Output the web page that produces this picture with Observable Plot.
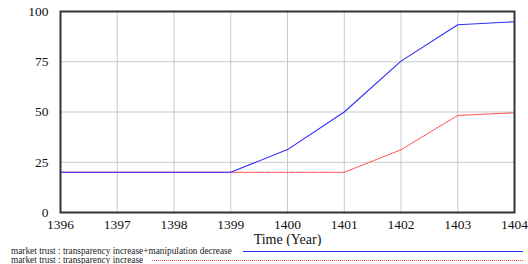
<!DOCTYPE html>
<html>
<head>
<meta charset="utf-8">
<script src="https://cdn.jsdelivr.net/npm/d3@7"></script>
<script src="https://cdn.jsdelivr.net/npm/@observablehq/plot@0.6"></script>
<style>
  html, body { margin: 0; padding: 0; background: #fff; }
  #wrap { position: relative; width: 528px; height: 264px; overflow: hidden; font-family: 'Liberation Serif', 'Times New Roman', 'DejaVu Serif', serif; }
  #chart { position: absolute; left: 0; top: 0; }
  #chart svg, #chart svg text { font-family: 'Liberation Serif', 'Times New Roman', 'DejaVu Serif', serif !important; }
  .leg { position: absolute; left: 0; width: 528px; height: 9px; font-size: 9.3px; color: #222; }
  .leg span { position: absolute; left: 11px; top: 0; line-height: 9px; white-space: nowrap; }
  .leg i { position: absolute; top: 4px; right: 5px; height: 0; }
</style>
</head>
<body>
<div id="wrap">
  <div id="chart"></div>
  <div class="leg" id="leg1" style="top:247px"></div>
  <div class="leg" id="leg2" style="top:256px"></div>
</div>
<script>
const years = [1396, 1397, 1398, 1399, 1400, 1401, 1402, 1403, 1404];
const trustBoth = [20, 20, 20, 20, 31.3, 50, 75.3, 93.4, 94.9];
const trustTransparency = [20, 20, 20, 20, 20, 20, 31.2, 48.3, 49.6];
const seriesNames = [
  "market trust : transparency increase+manipulation decrease",
  "market trust : transparency increase"
];
const seriesColors = ["#2b2bff", "#ff3b3b"];
const xTicks = years;
const yTicks = [0, 25, 50, 75, 100];
const xTitle = "Time (Year)";

const rowsBoth = years.map((t, i) => ({ t, v: trustBoth[i] }));
const rowsTr = years.map((t, i) => ({ t, v: trustTransparency[i] }));

const chart = Plot.plot({
  width: 528,
  height: 246,
  marginLeft: 60,
  marginRight: 14,
  marginTop: 11,
  marginBottom: 34,
  style: { fontFamily: "'Liberation Serif', 'Times New Roman', serif", fontSize: "14px", color: "#111", background: "transparent" },
  x: { domain: [1396, 1404], label: null },
  y: { domain: [0, 100], label: null },
  marks: [
    Plot.gridX(xTicks, { stroke: "#c8c8c8", strokeOpacity: 1, strokeWidth: 1 }),
    Plot.gridY(yTicks, { stroke: "#c8c8c8", strokeOpacity: 1, strokeWidth: 1 }),
    Plot.axisX({ ticks: xTicks, tickFormat: d => String(d), tickSize: 0, tickPadding: 7, fontSize: 13.5, label: null }),
    Plot.axisY({ ticks: yTicks, tickSize: 0, tickPadding: 12, fontSize: 13.5, label: null }),
    Plot.text([xTitle], { frameAnchor: "bottom", lineAnchor: "middle", dy: 27, text: d => d, fontSize: 14, fill: "#111" }),
    Plot.line(rowsTr, { x: "t", y: "v", stroke: seriesColors[1], strokeWidth: 1, strokeDasharray: "1.2,1" }),
    Plot.line(rowsBoth, { x: "t", y: "v", stroke: seriesColors[0], strokeWidth: 1.1 }),
    Plot.frame({ stroke: "#333", strokeWidth: 2 })
  ]
});
document.getElementById("chart").appendChild(chart);

const legStyles = [
  { left: 243, border: "1.2px solid " + seriesColors[0] },
  { left: 152, border: "1.2px dotted " + seriesColors[1] }
];
["leg1", "leg2"].forEach((id, i) => {
  const el = document.getElementById(id);
  const s = document.createElement("span");
  s.textContent = seriesNames[i];
  el.appendChild(s);
  const line = document.createElement("i");
  line.style.left = legStyles[i].left + "px";
  line.style.borderTop = legStyles[i].border;
  el.appendChild(line);
});
</script>
</body>
</html>
